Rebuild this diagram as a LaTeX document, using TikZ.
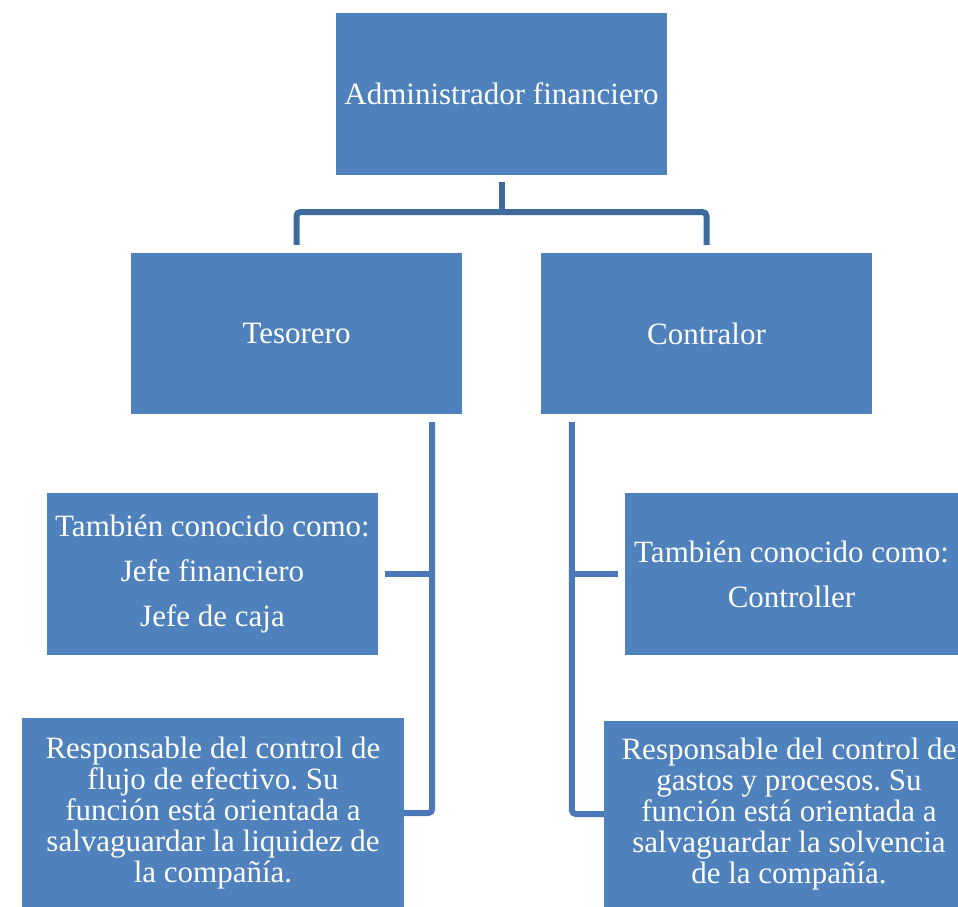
\documentclass[tikz,border=0pt]{standalone}
\usepackage{fontspec}
\setmainfont{Liberation Serif}
\frenchspacing
\definecolor{boxblue}{HTML}{4F81BD}
\definecolor{topline}{HTML}{3F6A9C}
\definecolor{sideline}{HTML}{4A78B8}
\tikzset{
  orgbox/.style={fill=boxblue, text=white, align=center, inner sep=0pt,
    font=\fontsize{31}{31}\selectfont},
  aliasbox/.style={orgbox, font=\fontsize{31}{45}\selectfont},
  orgline/.style={draw=topline, line width=6pt, rounded corners=4pt},
  sidelink/.style={draw=sideline, line width=6pt, rounded corners=4pt}
}
\begin{document}
\begin{tikzpicture}[x=1pt,y=-1pt]
  \useasboundingbox (0,0) rectangle (958,906);

  \node[orgbox, minimum width=331pt, minimum height=162pt] (admin) at (501.5,94) {Administrador financiero};
  \node[orgbox, minimum width=331pt, minimum height=161pt] (teso) at (296.5,333.5) {Tesorero};
  \node[orgbox, minimum width=331pt, minimum height=161pt] (contra) at (706.5,333.5) {Contralor};

  \node[aliasbox, minimum width=331pt, minimum height=162pt] (alias1) at (212.5,574) {También conocido como:\\Jefe financiero\\Jefe de caja};
  \node[aliasbox, minimum width=333pt, minimum height=162pt] (alias2) at (791.5,574) {También conocido como:\\Controller};

  \node[orgbox, minimum width=382pt, minimum height=190pt] (resp1) at (213,813) {Responsable del control de\\flujo de efectivo. Su\\función está orientada a\\salvaguardar la liquidez de\\la compañía.};
  \node[orgbox, minimum width=370pt, minimum height=186pt] (resp2) at (789,814) {Responsable del control de\\gastos y procesos. Su\\función está orientada a\\salvaguardar la solvencia\\de la compañía.};

  % top bracket
  \coordinate (bus) at (501.5,212);
  \draw[orgline] ([yshift=-7pt]admin.south) -- (bus);
  \draw[orgline] ([yshift=8pt]teso.north) |- (bus) -| ([yshift=8pt]contra.north);

  % left branch
  \coordinate (lstem) at ([xshift=-30pt,yshift=-8pt]teso.south east);
  \draw[sidelink] (lstem) |- (resp1.east);
  \draw[sidelink] ([xshift=7pt]alias1.east) -- (alias1.east -| lstem);

  % right branch
  \coordinate (rstem) at ([xshift=31pt,yshift=-8pt]contra.south west);
  \draw[sidelink] (rstem) |- (resp2.west);
  \draw[sidelink] ([xshift=-7pt]alias2.west) -- (alias2.west -| rstem);
\end{tikzpicture}
\end{document}
